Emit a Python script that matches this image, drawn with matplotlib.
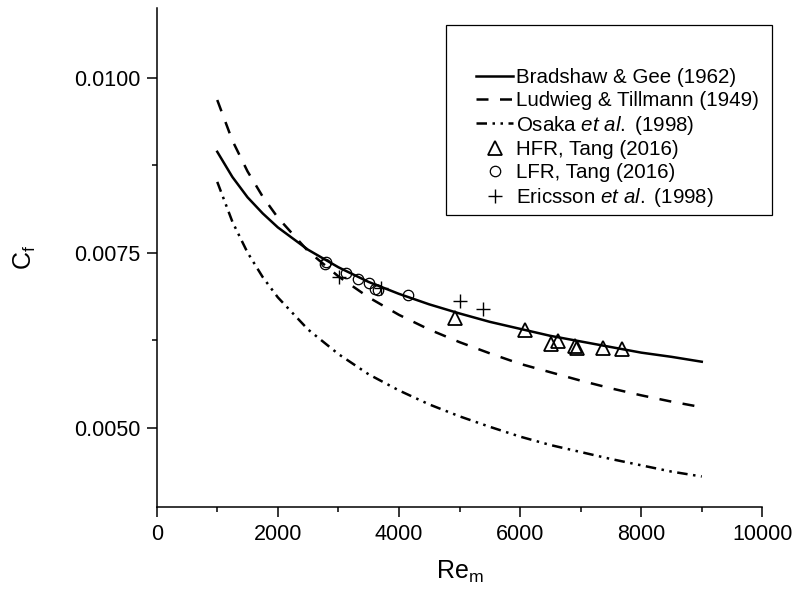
import matplotlib
matplotlib.use("Agg")
import matplotlib.pyplot as plt
from matplotlib.patches import Rectangle
from matplotlib.ticker import MultipleLocator, FixedLocator, FormatStrFormatter

plt.rcParams['font.family'] = ['Liberation Sans', 'DejaVu Sans']
plt.rcParams['mathtext.fontset'] = 'custom'
plt.rcParams['mathtext.rm'] = 'Liberation Sans'
plt.rcParams['mathtext.it'] = 'Liberation Sans:italic'

# correlation curves
re_curve = [1000, 1250, 1500, 1750, 2000, 2500, 3000, 3500, 4000, 4500, 5000,
            5500, 6000, 6500, 7000, 7500, 8000, 8500, 9000]
cf_bradshaw = [0.00894, 0.00858, 0.00829, 0.00806, 0.00786, 0.00754, 0.00729,
               0.00708, 0.00691, 0.00676, 0.00663, 0.00651, 0.00641, 0.00631,
               0.00623, 0.00615, 0.00607, 0.00601, 0.00594]
cf_ludwieg = [0.00968, 0.00910, 0.00866, 0.00830, 0.00800, 0.00752, 0.00716,
              0.00686, 0.00661, 0.00640, 0.00622, 0.00606, 0.00591, 0.00579,
              0.00567, 0.00556, 0.00546, 0.00537, 0.00529]
cf_osaka = [0.00851, 0.00794, 0.00750, 0.00715, 0.00686, 0.00640, 0.00605,
            0.00576, 0.00553, 0.00533, 0.00516, 0.00501, 0.00487, 0.00475,
            0.00465, 0.00455, 0.00446, 0.00437, 0.00430]

# measurements
re_hfr = [4926, 6082, 6506, 6631, 6907, 6945, 7375, 7688]
cf_hfr = [0.00656, 0.00639, 0.00620, 0.00624, 0.00616, 0.00614, 0.00613, 0.00612]

re_lfr = [2779, 2795, 3126, 3329, 3511, 3605, 3659, 4155]
cf_lfr = [0.00734, 0.00737, 0.00721, 0.00712, 0.00706, 0.00698, 0.00696, 0.00689]

re_eric = [3010, 3704, 5008, 5393]
cf_eric = [0.00715, 0.00700, 0.00681, 0.00670]

fig = plt.figure(figsize=(7.97, 5.99), dpi=100)
ax = fig.add_axes([0.1966, 0.1531, 0.7599, 0.833])

lw = 1.8
ax.plot(re_curve, cf_bradshaw, color='black', lw=lw, label='Bradshaw & Gee (1962)')
ax.plot(re_curve, cf_ludwieg, color='black', lw=lw, dashes=(4.8, 4.6),
        label='Ludwieg & Tillmann (1949)')
ax.plot(re_curve, cf_osaka, color='black', lw=lw, dashes=(4.2, 2.2, 1.0, 2.2, 1.0, 2.2),
        label=r'Osaka $\it{et\ al.\ }$(1998)')
ax.plot(re_hfr, cf_hfr, ls='none', marker='^', ms=9.5, mfc='none', mec='black',
        mew=1.3, label='HFR, Tang (2016)')
ax.plot(re_lfr, cf_lfr, ls='none', marker='o', ms=7.5, mfc='none', mec='black',
        mew=0.9, label='LFR, Tang (2016)')
ax.plot(re_eric, cf_eric, ls='none', marker='+', ms=10.5, mec='black',
        mew=1.0, label=r'Ericsson $\it{et\ al.\ }$(1998)')

ax.set_xlim(0, 10000)
ax.set_ylim(0.00386, 0.01099)
ax.xaxis.set_major_locator(MultipleLocator(2000))
ax.xaxis.set_minor_locator(MultipleLocator(1000))
ax.yaxis.set_major_locator(FixedLocator([0.005, 0.0075, 0.01]))
ax.yaxis.set_minor_locator(FixedLocator([0.00625, 0.00875]))
ax.yaxis.set_major_formatter(FormatStrFormatter('%.4f'))

for side in ['top', 'right']:
    ax.spines[side].set_visible(False)
for side in ['left', 'bottom']:
    ax.spines[side].set_linewidth(1.1)
ax.tick_params(which='major', direction='out', length=7, width=1.1, labelsize=15.5, pad=5)
ax.tick_params(which='minor', direction='out', length=3.5, width=1.1)

ax.set_xlabel(r'$\mathrm{Re_m}$', fontsize=18, labelpad=10)
ax.set_ylabel(r'$\mathrm{C_f}$', fontsize=18, labelpad=26)

# legend box drawn separately, entries placed inside
fig.patches.append(Rectangle((446 / 797, 1 - 215 / 599), (772 - 446) / 797, (215 - 25) / 599,
                             transform=fig.transFigure, fill=False, ec='black', lw=0.9))
fig.legend(loc='upper left', bbox_to_anchor=(466 / 797, 1 - 58 / 599),
           bbox_transform=fig.transFigure, frameon=False, fontsize=14.8,
           borderpad=0, labelspacing=0.18, handlelength=1.8, handletextpad=0.15)

plt.savefig('out.png', dpi=100)
